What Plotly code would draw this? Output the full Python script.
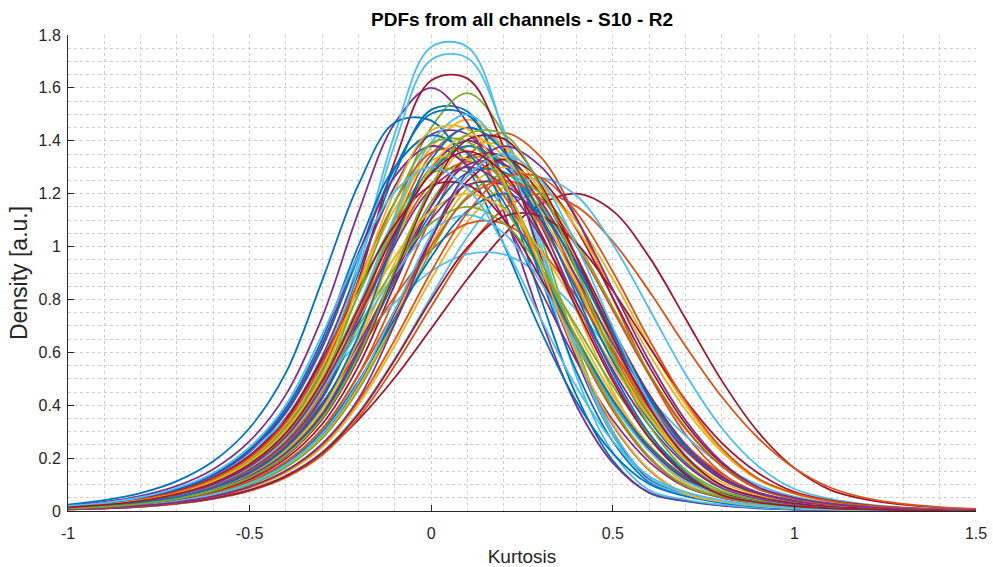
import plotly.graph_objects as go

# Kurtosis grid on which every channel's density estimate is sampled
kurtosis = [-1.0, -0.9, -0.8, -0.7, -0.6, -0.5, -0.4, -0.3, -0.2, -0.1, 0.0,
            0.1, 0.2, 0.3, 0.4, 0.5, 0.6, 0.7, 0.8, 0.9, 1.0,
            1.1, 1.2, 1.3, 1.4, 1.5]

# Density per channel (same order as the recording channels)
ch01 = [.015, .025, .042, .070, .117, .195, .325, .541, .901, 1.276, 1.517, 1.511, 1.229, .812, .437, .191, .068, .037, .020, .010, .005, .003, 0, 0, 0, 0]
ch02 = [.013, .021, .035, .058, .097, .161, .268, .447, .745, 1.079, 1.347, 1.45, 1.372, 1.161, .880, .596, .361, .196, .096, .053, .029, .016, .008, .004, .002, 0]
ch03 = [.013, .021, .036, .059, .099, .164, .274, .457, .761, 1.101, 1.375, 1.48, 1.375, 1.101, .761, .453, .232, .104, .057, .031, .017, .009, .005, .003, 0, 0]
ch04 = [.021, .034, .057, .095, .158, .264, .440, .733, 1.131, 1.467, 1.6, 1.467, 1.131, .733, .398, .182, .070, .039, .021, .012, .006, .003, 0, 0, 0, 0]
ch05 = [.012, .020, .034, .056, .094, .156, .261, .434, .724, 1.117, 1.449, 1.58, 1.425, 1.046, .624, .302, .120, .066, .036, .020, .011, .006, .003, 0, 0, 0]
ch06 = [.016, .026, .044, .073, .122, .204, .340, .566, .943, 1.427, 1.755, 1.755, 1.427, .943, .508, .221, .079, .043, .024, .013, .007, .004, 0, 0, 0, 0]
ch07 = [.015, .024, .041, .068, .113, .189, .315, .525, .875, 1.324, 1.628, 1.635, 1.374, .970, .576, .287, .120, .066, .036, .020, .011, .006, .003, 0, 0, 0]

ch08 = [.024, .041, .068, .113, .188, .314, .523, .872, 1.235, 1.469, 1.476, 1.299, 1.007, .687, .413, .218, .102, .056, .031, .017, .009, .005, .003, 0, 0, 0]
ch09 = [.009, .014, .024, .040, .067, .111, .186, .310, .516, .805, 1.108, 1.341, 1.43, 1.341, 1.108, .805, .516, .290, .144, .063, .035, .019, .010, .006, .003, 0]
ch10 = [.011, .018, .030, .050, .083, .139, .231, .385, .641, .939, 1.212, 1.378, 1.378, 1.212, .939, .641, .385, .203, .095, .052, .029, .016, .009, .005, .003, 0]
ch11 = [.016, .027, .046, .076, .127, .211, .352, .586, .914, 1.228, 1.424, 1.424, 1.228, .914, .586, .325, .155, .064, .035, .019, .011, .006, .003, 0, 0, 0]
ch12 = [.014, .023, .039, .065, .108, .179, .299, .498, .777, 1.070, 1.294, 1.38, 1.305, 1.105, .838, .567, .344, .186, .091, .050, .028, .015, .008, .004, .002, 0]
ch13 = [.015, .026, .043, .071, .119, .198, .330, .550, .917, 1.388, 1.706, 1.713, 1.440, 1.017, .604, .301, .126, .069, .038, .021, .012, .006, .003, 0, 0, 0]
ch14 = [.006, .010, .017, .029, .048, .079, .132, .220, .346, .505, .690, .878, 1.045, 1.159, 1.2, 1.135, .961, .728, .493, .299, .162, .079, .043, .024, .013, .007]

ch15 = [.017, .029, .048, .080, .134, .223, .371, .618, .964, 1.296, 1.502, 1.498, 1.259, .889, .528, .263, .110, .061, .033, .018, .010, .006, .003, 0, 0, 0]
ch16 = [.006, .010, .016, .027, .046, .076, .127, .212, .354, .550, .773, .988, 1.142, 1.2, 1.152, 1.019, .832, .624, .432, .276, .162, .088, .048, .027, .015, .008]
ch17 = [.007, .011, .019, .031, .052, .087, .145, .242, .403, .627, .877, 1.094, 1.223, 1.223, 1.094, .877, .627, .403, .231, .119, .065, .036, .020, .011, .006, .003]
ch18 = [.012, .020, .034, .056, .093, .156, .259, .432, .720, 1.042, 1.301, 1.4, 1.313, 1.085, .788, .505, .284, .141, .062, .034, .019, .010, .006, .003, 0, 0]
ch19 = [.010, .017, .029, .048, .080, .134, .223, .371, .618, .906, 1.169, 1.328, 1.328, 1.169, .906, .618, .371, .196, .092, .051, .028, .015, .008, .005, .003, 0]
ch20 = [.018, .030, .050, .084, .140, .227, .344, .486, .641, .789, .907, .971, .970, .894, .760, .595, .429, .285, .174, .099, .054, .030, .017, .009, .005, .003]
ch21 = [.009, .015, .026, .043, .071, .119, .198, .329, .549, .857, 1.152, 1.336, 1.341, 1.200, .962, .688, .442, .253, .131, .060, .033, .018, .010, .006, .003, 0]

ch22 = [.012, .020, .033, .055, .092, .153, .255, .425, .709, 1.027, 1.282, 1.38, 1.305, 1.105, .838, .567, .344, .186, .091, .050, .028, .015, .008, .004, .002, 0]
ch23 = [.013, .022, .037, .062, .103, .172, .286, .477, .743, 1.023, 1.238, 1.32, 1.257, 1.086, .850, .605, .389, .227, .120, .066, .036, .020, .011, .006, .003, 0]
ch24 = [.015, .025, .042, .071, .118, .196, .327, .545, .851, 1.143, 1.326, 1.331, 1.191, .954, .683, .439, .251, .130, .072, .039, .022, .012, .006, .003, 0, 0]
ch25 = [.018, .030, .049, .082, .137, .228, .379, .632, .976, 1.265, 1.38, 1.305, 1.105, .838, .567, .344, .186, .091, .050, .028, .015, .008, .004, .002, 0, 0]
ch26 = [.015, .024, .041, .068, .113, .189, .315, .525, .819, 1.101, 1.277, 1.282, 1.147, .919, .658, .423, .242, .125, .069, .038, .021, .012, .006, .003, 0, 0]
ch27 = [.006, .010, .017, .029, .048, .080, .134, .223, .372, .577, .811, 1.037, 1.200, 1.26, 1.192, 1.009, .765, .518, .314, .170, .083, .046, .025, .014, .008, .004]
ch28 = [.008, .013, .022, .037, .062, .104, .173, .288, .480, .749, 1.031, 1.248, 1.33, 1.258, 1.065, .807, .547, .331, .180, .088, .048, .027, .015, .008, .004, .002]

ch29 = [.010, .017, .028, .046, .077, .129, .215, .358, .595, .872, 1.126, 1.279, 1.282, 1.147, .919, .658, .423, .242, .125, .069, .038, .021, .012, .006, .003, 0]
ch30 = [.012, .020, .033, .054, .090, .151, .251, .409, .605, .811, .986, 1.087, 1.087, .986, .811, .605, .409, .251, .140, .070, .039, .021, .012, .006, .003, 0]
ch31 = [.008, .013, .022, .036, .061, .101, .169, .281, .469, .732, 1.008, 1.219, 1.3, 1.238, 1.070, .837, .595, .384, .224, .118, .065, .036, .020, .011, .006, .003]
ch32 = [.010, .017, .028, .047, .079, .132, .220, .366, .609, .892, 1.152, 1.309, 1.311, 1.173, .940, .673, .432, .247, .128, .070, .039, .021, .012, .006, .003, 0]
ch33 = [.008, .013, .021, .036, .059, .099, .165, .275, .458, .715, .984, 1.191, 1.27, 1.201, 1.017, .771, .522, .316, .171, .084, .046, .025, .014, .008, .004, .002]
ch34 = [.013, .022, .036, .060, .100, .167, .278, .463, .771, 1.116, 1.394, 1.5, 1.353, .993, .593, .287, .114, .063, .035, .019, .010, .006, .003, 0, 0, 0]
ch35 = [.016, .027, .045, .074, .124, .206, .344, .573, .839, 1.083, 1.230, 1.233, 1.103, .884, .633, .406, .233, .120, .066, .036, .020, .011, .006, .003, 0, 0]

ch36 = [.008, .014, .023, .039, .065, .108, .179, .299, .493, .728, .961, 1.135, 1.2, 1.126, .930, .676, .433, .244, .121, .067, .037, .020, .011, .006, .003, 0]
ch37 = [.016, .026, .043, .072, .121, .201, .335, .558, .869, 1.169, 1.355, 1.358, 1.195, .926, .632, .380, .200, .094, .052, .029, .016, .009, .005, .003, 0, 0]
ch38 = [.014, .023, .039, .065, .108, .179, .299, .493, .728, .961, 1.135, 1.2, 1.142, .988, .773, .550, .354, .206, .109, .060, .033, .018, .010, .006, .003, 0]
ch39 = [.011, .019, .032, .053, .088, .146, .244, .406, .633, .884, 1.103, 1.233, 1.233, 1.103, .884, .633, .406, .233, .120, .066, .036, .020, .011, .006, .003, 0]
ch40 = [.013, .022, .037, .062, .103, .172, .286, .473, .698, .921, 1.088, 1.15, 1.088, .921, .698, .473, .286, .155, .076, .042, .023, .013, .007, .004, .002, 0]
ch41 = [.013, .022, .036, .060, .100, .167, .279, .460, .680, .897, 1.060, 1.12, 1.051, .868, .631, .404, .227, .113, .062, .034, .019, .010, .006, .003, 0, 0]
ch42 = [.006, .010, .017, .029, .048, .079, .132, .220, .367, .572, .799, .997, 1.114, 1.116, 1.012, .833, .622, .420, .258, .144, .072, .040, .022, .012, .007, .004]

ch43 = [.018, .030, .051, .084, .140, .234, .390, .650, 1.004, 1.302, 1.42, 1.352, 1.169, .914, .650, .419, .244, .129, .062, .034, .019, .010, .006, .003, 0, 0]
ch44 = [.009, .015, .024, .040, .067, .112, .187, .311, .514, .759, 1.001, 1.183, 1.25, 1.183, 1.001, .759, .514, .311, .169, .083, .046, .025, .014, .008, .004, .002]
ch45 = [.011, .018, .030, .051, .084, .140, .234, .390, .650, 1.004, 1.302, 1.42, 1.343, 1.137, .862, .584, .354, .192, .094, .052, .029, .016, .009, .005, .003, 0]
ch46 = [.013, .022, .036, .061, .101, .169, .281, .469, .732, 1.008, 1.219, 1.3, 1.230, 1.041, .789, .534, .324, .176, .086, .047, .026, .014, .008, .004, .002, 0]
ch47 = [.014, .023, .038, .064, .107, .178, .297, .495, .825, 1.169, 1.390, 1.397, 1.230, .953, .650, .391, .206, .097, .053, .029, .016, .009, .005, .003, 0, 0]
ch48 = [.008, .014, .023, .038, .063, .105, .175, .292, .487, .760, 1.046, 1.266, 1.35, 1.254, 1.004, .694, .413, .212, .095, .052, .029, .016, .009, .005, .003, 0]
ch49 = [.010, .016, .027, .045, .075, .125, .208, .347, .578, .901, 1.211, 1.404, 1.407, 1.238, .960, .655, .393, .207, .097, .053, .029, .016, .009, .005, .003, 0]

ch50 = [.011, .019, .031, .052, .086, .143, .239, .398, .664, 1.025, 1.330, 1.45, 1.360, 1.124, .816, .523, .294, .146, .064, .035, .019, .011, .006, .003, 0, 0]
ch51 = [.007, .012, .019, .032, .054, .090, .150, .250, .416, .648, .905, 1.129, 1.262, 1.262, 1.129, .905, .648, .416, .238, .123, .068, .037, .020, .011, .006, .003]
ch52 = [.014, .024, .040, .066, .111, .184, .307, .512, .854, 1.210, 1.439, 1.444, 1.245, .926, .594, .329, .157, .065, .036, .020, .011, .006, .003, 0, 0, 0]
ch53 = [.007, .012, .020, .033, .055, .092, .153, .255, .425, .709, 1.027, 1.282, 1.38, 1.305, 1.105, .838, .567, .344, .186, .091, .050, .028, .015, .008, .004, .002]
ch54 = [.010, .016, .027, .046, .076, .127, .211, .352, .586, .914, 1.228, 1.424, 1.424, 1.228, .914, .586, .325, .155, .064, .035, .019, .011, .006, .003, 0, 0]
ch55 = [.019, .031, .052, .087, .144, .241, .401, .668, .967, 1.208, 1.3, 1.219, 1.008, .732, .469, .264, .131, .072, .040, .022, .012, .007, .004, 0, 0, 0]
ch56 = [.014, .023, .038, .064, .106, .177, .295, .491, .766, 1.054, 1.276, 1.36, 1.276, 1.054, .766, .491, .276, .137, .060, .033, .018, .010, .006, .003, 0, 0]

channels = [ch01, ch02, ch03, ch04, ch05, ch06, ch07,
            ch08, ch09, ch10, ch11, ch12, ch13, ch14,
            ch15, ch16, ch17, ch18, ch19, ch20, ch21,
            ch22, ch23, ch24, ch25, ch26, ch27, ch28,
            ch29, ch30, ch31, ch32, ch33, ch34, ch35,
            ch36, ch37, ch38, ch39, ch40, ch41, ch42,
            ch43, ch44, ch45, ch46, ch47, ch48, ch49,
            ch50, ch51, ch52, ch53, ch54, ch55, ch56]

x_ticks = [-1, -0.5, 0, 0.5, 1, 1.5]
x_tick_text = ["-1", "-0.5", "0", "0.5", "1", "1.5"]
y_ticks = [0, 0.2, 0.4, 0.6, 0.8, 1.0, 1.2, 1.4, 1.6, 1.8]
y_tick_text = ["0", "0.2", "0.4", "0.6", "0.8", "1", "1.2", "1.4", "1.6", "1.8"]

# MATLAB-style line colour order
line_colors = ["#0072BD", "#D95319", "#EDB120", "#7E2F8E",
               "#77AC30", "#4DBEEE", "#A2142F"]

for dens in channels:
    assert len(dens) == len(kurtosis)

fig = go.Figure()
for i, dens in enumerate(channels):
    fig.add_trace(go.Scatter(
        x=kurtosis, y=dens, mode="lines",
        line=dict(color=line_colors[i % len(line_colors)], width=1.8,
                  shape="spline", smoothing=1.0),
        showlegend=False, hoverinfo="skip",
    ))

font_family = "Liberation Sans, Arial, Helvetica, sans-serif"
axis_color = "#262626"
grid_color = "#cfcfcf"

fig.update_layout(
    width=993, height=567,
    margin=dict(l=68, r=17, t=35, b=56),
    paper_bgcolor="white", plot_bgcolor="white",
    font=dict(family=font_family, size=16, color=axis_color),
    title=dict(text="<b>PDFs from all channels - S10 - R2</b>",
               x=0.5, xref="paper", xanchor="center",
               y=1 - 19 / 567, yref="container", yanchor="middle",
               font=dict(family=font_family, size=19, color="#000000")),
)

fig.update_xaxes(
    range=[-1, 1.5], tickvals=x_ticks, ticktext=x_tick_text,
    showline=True, linecolor=axis_color, linewidth=1,
    ticks="inside", ticklen=6, tickcolor=axis_color,
    showgrid=True, gridcolor=grid_color, gridwidth=1, griddash="dot",
    minor=dict(dtick=0.1, showgrid=True, gridcolor=grid_color,
               griddash="dot", ticks=""),
    zeroline=False, mirror=False, automargin=False,
    tickfont=dict(size=16, color=axis_color), ticklabelstandoff=8,
    title=dict(text="Kurtosis", font=dict(size=19, color=axis_color), standoff=9),
)
fig.update_yaxes(
    range=[0, 1.8], tickvals=y_ticks, ticktext=y_tick_text,
    showline=True, linecolor=axis_color, linewidth=1,
    ticks="inside", ticklen=6, tickcolor=axis_color,
    showgrid=True, gridcolor=grid_color, gridwidth=1, griddash="dot",
    minor=dict(dtick=0.05, showgrid=True, gridcolor=grid_color,
               griddash="dot", ticks=""),
    zeroline=False, mirror=False, automargin=False,
    tickfont=dict(size=16, color=axis_color), ticklabelstandoff=3,
    title=dict(text="Density [a.u.]", font=dict(size=23, color=axis_color), standoff=4),
)

fig.write_html("out.html")
